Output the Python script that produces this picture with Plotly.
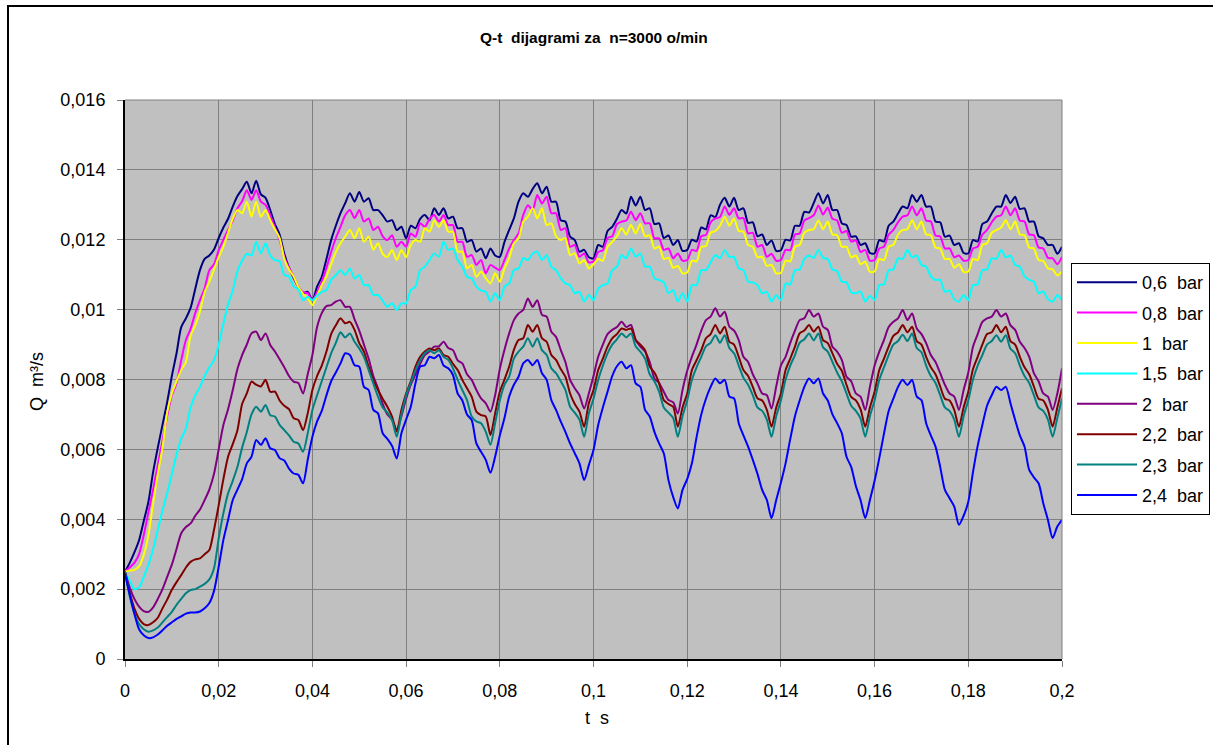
import plotly.graph_objects as go

# Sample instants, one every millisecond from 0 to 200 ms
t_ms = list(range(201))

# Flow rate Q in litres per second (converted to m3/s when plotted)
q_06_bar = [
    2.50, 2.75, 3.05, 3.40, 3.95, 4.50, 5.35, 6.05, 6.70, 7.35,
    8.10, 8.75, 9.50, 9.75, 10.05, 10.60, 11.13, 11.45, 11.55, 11.72,
    12.05, 12.35, 12.60, 12.95, 13.25, 13.45, 13.66, 13.33, 13.69, 13.30,
    13.20, 12.85, 12.45, 12.15, 11.60, 11.20, 10.90, 10.65, 10.47, 10.51,
    10.27, 10.66, 10.94, 11.45, 11.99, 12.40, 12.76, 13.05, 13.33, 13.09,
    13.37, 13.09, 13.19, 12.85, 12.85, 12.70, 12.52, 12.56, 12.28, 12.37,
    12.04, 12.40, 12.33, 12.60, 12.71, 12.56, 12.90, 12.71, 12.90, 12.61,
    12.66, 12.33, 12.33, 11.94, 11.99, 11.66, 11.75, 11.47, 11.75, 11.55,
    11.51, 11.94, 12.28, 12.61, 13.09, 13.33, 13.23, 13.45, 13.62, 13.33,
    13.52, 13.09, 13.09, 12.56, 12.52, 12.09, 11.99, 11.66, 11.71, 11.50,
    11.47, 11.85, 11.80, 12.25, 12.37, 12.60, 12.85, 12.75, 13.23, 12.98,
    13.23, 12.85, 12.90, 12.45, 12.47, 12.05, 12.12, 11.85, 11.99, 11.68,
    11.71, 12.00, 11.95, 12.35, 12.30, 12.70, 12.65, 13.00, 13.20, 12.95,
    13.20, 12.85, 12.90, 12.48, 12.50, 12.10, 12.15, 11.85, 11.98, 11.68,
    11.70, 12.00, 11.98, 12.40, 12.40, 12.80, 12.78, 13.05, 13.33, 13.04,
    13.28, 12.85, 12.85, 12.47, 12.42, 12.09, 12.10, 11.85, 11.90, 11.62,
    11.61, 11.99, 11.95, 12.40, 12.52, 12.75, 12.95, 12.90, 13.28, 13.09,
    13.28, 12.95, 12.95, 12.52, 12.50, 12.09, 12.12, 11.85, 11.90, 11.62,
    11.61, 11.99, 11.95, 12.45, 12.52, 12.75, 12.95, 12.95, 13.28, 13.05,
    13.23, 12.88, 12.90, 12.52, 12.52, 12.10, 12.04, 11.85, 11.85, 11.60,
    11.80,
]

q_08_bar = [
    2.50, 2.62, 2.75, 3.00, 3.55, 4.20, 4.85, 5.55, 6.25, 6.95,
    7.55, 7.90, 8.55, 9.13, 9.45, 9.90, 10.27, 10.61, 11.13, 11.30,
    11.70, 12.00, 12.28, 12.55, 12.90, 13.10, 13.42, 13.14, 13.42, 13.09,
    13.00, 12.70, 12.35, 12.00, 11.50, 11.20, 10.95, 10.65, 10.50, 10.47,
    10.27, 10.50, 10.80, 11.20, 11.65, 12.05, 12.37, 12.70, 12.85, 12.62,
    12.85, 12.52, 12.61, 12.28, 12.37, 12.10, 11.99, 12.13, 11.80, 11.94,
    11.80, 12.18, 12.09, 12.47, 12.37, 12.60, 12.71, 12.52, 12.71, 12.42,
    12.42, 11.94, 11.94, 11.51, 11.56, 11.28, 11.42, 11.04, 11.28, 11.20,
    11.13, 11.42, 11.75, 11.99, 12.18, 12.71, 12.99, 12.85, 13.28, 13.04,
    13.23, 12.76, 12.76, 12.28, 12.33, 11.80, 11.85, 11.51, 11.61, 11.35,
    11.38, 11.65, 11.70, 12.05, 12.10, 12.45, 12.52, 12.55, 12.80, 12.56,
    12.76, 12.47, 12.47, 12.04, 12.04, 11.71, 11.75, 11.47, 11.61, 11.40,
    11.42, 11.71, 11.68, 12.10, 12.14, 12.50, 12.61, 12.65, 12.95, 12.71,
    12.90, 12.61, 12.62, 12.18, 12.20, 11.80, 11.85, 11.51, 11.60, 11.40,
    11.42, 11.71, 11.70, 12.15, 12.18, 12.55, 12.62, 12.70, 12.98, 12.72,
    12.92, 12.60, 12.55, 12.20, 12.25, 11.95, 11.98, 11.65, 11.71, 11.40,
    11.42, 11.75, 11.80, 12.15, 12.28, 12.50, 12.66, 12.70, 12.95, 12.70,
    12.90, 12.55, 12.52, 12.12, 12.09, 11.75, 11.75, 11.50, 11.55, 11.40,
    11.42, 11.75, 11.80, 12.15, 12.28, 12.50, 12.66, 12.70, 12.95, 12.70,
    12.90, 12.55, 12.52, 12.15, 12.13, 11.78, 11.75, 11.48, 11.47, 11.30,
    11.51,
]

q_1_bar = [
    2.50, 2.53, 2.55, 2.65, 2.98, 3.55, 4.45, 5.30, 6.05, 7.05,
    7.60, 7.95, 8.27, 8.50, 9.25, 9.55, 9.95, 10.50, 10.80, 11.15,
    11.50, 11.80, 12.20, 12.60, 12.85, 12.76, 13.09, 12.66, 13.09, 12.66,
    12.85, 12.56, 12.30, 12.05, 11.45, 11.15, 10.95, 10.65, 10.45, 10.32,
    10.13, 10.40, 10.70, 10.95, 11.30, 11.65, 11.90, 12.09, 12.28, 12.04,
    12.33, 11.94, 12.09, 11.71, 11.90, 11.60, 11.51, 11.71, 11.42, 11.71,
    11.50, 11.85, 11.99, 11.94, 12.33, 12.23, 12.56, 12.37, 12.56, 12.23,
    12.23, 11.66, 11.66, 11.18, 11.28, 10.94, 11.09, 10.90, 10.75, 11.04,
    10.80, 11.18, 11.47, 11.90, 12.04, 12.52, 12.66, 12.90, 12.61, 12.90,
    12.42, 12.47, 12.10, 11.99, 12.04, 11.56, 11.61, 11.32, 11.42, 11.18,
    11.30, 11.45, 11.40, 11.80, 11.94, 12.10, 12.33, 12.15, 12.42, 12.18,
    12.45, 12.10, 12.13, 11.75, 11.80, 11.45, 11.48, 11.20, 11.25, 11.04,
    11.06, 11.40, 11.38, 11.80, 11.82, 12.20, 12.25, 12.40, 12.66, 12.40,
    12.61, 12.25, 12.23, 11.85, 11.80, 11.50, 11.51, 11.25, 11.28, 11.04,
    11.05, 11.40, 11.38, 11.80, 11.85, 12.20, 12.28, 12.30, 12.55, 12.30,
    12.52, 12.15, 12.13, 11.80, 11.80, 11.50, 11.55, 11.30, 11.37, 11.08,
    11.09, 11.45, 11.42, 11.80, 11.85, 12.15, 12.28, 12.30, 12.56, 12.30,
    12.52, 12.15, 12.13, 11.78, 11.75, 11.45, 11.45, 11.20, 11.30, 11.08,
    11.09, 11.45, 11.42, 11.85, 11.90, 12.20, 12.28, 12.35, 12.56, 12.30,
    12.52, 12.15, 12.13, 11.78, 11.75, 11.42, 11.40, 11.18, 11.15, 10.98,
    11.09,
]

q_15_bar = [
    2.50, 2.25, 2.00, 2.05, 2.35, 2.70, 3.15, 3.70, 4.25, 4.75,
    5.30, 5.85, 6.30, 6.60, 7.20, 7.55, 7.79, 8.10, 8.35, 8.55,
    9.00, 9.60, 10.15, 10.55, 11.10, 11.40, 11.60, 11.55, 11.94, 11.61,
    11.90, 11.55, 11.42, 11.38, 10.99, 10.95, 10.66, 10.58, 10.27, 10.37,
    10.27, 10.40, 10.51, 10.56, 10.85, 10.99, 11.13, 10.99, 11.18, 10.89,
    10.99, 10.70, 10.70, 10.42, 10.42, 10.25, 10.08, 10.18, 9.99, 10.18,
    10.18, 10.56, 10.66, 11.13, 11.23, 11.42, 11.61, 11.51, 11.94, 11.71,
    11.75, 11.42, 11.23, 10.94, 10.89, 10.66, 10.55, 10.51, 10.23, 10.47,
    10.27, 10.66, 10.75, 11.13, 11.18, 11.47, 11.42, 11.60, 11.66, 11.42,
    11.56, 11.23, 11.13, 10.90, 10.75, 10.70, 10.47, 10.51, 10.23, 10.42,
    10.27, 10.60, 10.70, 10.75, 11.13, 11.23, 11.56, 11.47, 11.75, 11.51,
    11.61, 11.23, 11.23, 10.90, 10.85, 10.78, 10.47, 10.56, 10.23, 10.47,
    10.23, 10.70, 10.70, 11.13, 11.13, 11.35, 11.56, 11.47, 11.71, 11.51,
    11.51, 11.18, 11.13, 10.80, 10.78, 10.70, 10.47, 10.51, 10.23, 10.42,
    10.27, 10.75, 10.72, 11.13, 11.15, 11.45, 11.55, 11.48, 11.71, 11.48,
    11.45, 11.15, 11.10, 10.80, 10.78, 10.50, 10.47, 10.52, 10.23, 10.40,
    10.27, 10.70, 10.72, 11.13, 11.15, 11.47, 11.45, 11.71, 11.50, 11.55,
    11.28, 11.23, 10.95, 10.85, 10.85, 10.51, 10.55, 10.30, 10.23, 10.42,
    10.27, 10.70, 10.72, 11.13, 11.15, 11.47, 11.45, 11.71, 11.50, 11.55,
    11.28, 11.23, 10.95, 10.85, 10.80, 10.47, 10.52, 10.30, 10.23, 10.42,
    10.27,
]

q_2_bar = [
    2.50, 2.05, 1.72, 1.50, 1.37, 1.35, 1.48, 1.72, 2.00, 2.35,
    2.70, 3.15, 3.60, 3.78, 3.88, 4.10, 4.28, 4.55, 4.85, 5.30,
    6.00, 6.70, 7.15, 7.70, 8.30, 8.70, 9.00, 9.32, 9.37, 9.13,
    9.32, 8.99, 8.80, 8.58, 8.35, 8.10, 7.94, 7.90, 7.60, 8.15,
    8.70, 9.50, 9.90, 10.10, 10.13, 10.23, 10.27, 10.08, 10.08, 9.72,
    9.40, 9.00, 8.60, 8.10, 7.75, 7.30, 7.00, 6.85, 6.55, 6.95,
    7.45, 7.85, 8.15, 8.45, 8.70, 8.80, 8.94, 8.95, 9.08, 8.90,
    8.84, 8.55, 8.46, 8.15, 7.99, 7.70, 7.46, 7.32, 7.08, 7.55,
    8.30, 8.85, 9.32, 9.70, 9.89, 9.99, 10.32, 10.08, 10.27, 9.85,
    9.80, 9.37, 9.22, 8.85, 8.50, 7.99, 7.75, 7.55, 7.17, 7.60,
    8.10, 8.65, 9.00, 9.30, 9.42, 9.50, 9.65, 9.50, 9.56, 9.13,
    8.94, 8.80, 8.50, 8.03, 7.90, 7.65, 7.41, 7.35, 7.03, 7.70,
    8.25, 8.65, 9.00, 9.40, 9.70, 9.80, 10.04, 9.80, 9.94, 9.51,
    9.40, 9.13, 8.65, 8.50, 8.15, 7.89, 7.60, 7.55, 7.17, 7.80,
    8.40, 8.65, 9.05, 9.40, 9.70, 9.75, 9.99, 9.80, 9.89, 9.51,
    9.42, 8.94, 8.80, 8.56, 8.08, 7.95, 7.60, 7.51, 7.13, 7.79,
    8.40, 8.80, 9.13, 9.50, 9.65, 9.75, 9.99, 9.70, 9.89, 9.46,
    9.30, 9.04, 8.70, 8.50, 8.18, 7.85, 7.60, 7.51, 7.13, 7.70,
    8.20, 8.94, 9.30, 9.65, 9.75, 9.80, 9.99, 9.80, 9.89, 9.55,
    9.42, 9.08, 8.90, 8.65, 8.18, 7.95, 7.60, 7.51, 7.13, 7.60,
    8.32,
]

q_22_bar = [
    2.50, 1.90, 1.45, 1.15, 1.00, 0.97, 1.05, 1.18, 1.45, 1.70,
    1.98, 2.20, 2.40, 2.62, 2.78, 2.85, 2.88, 3.00, 3.12, 3.70,
    4.40, 5.15, 5.79, 6.15, 6.55, 7.30, 7.60, 7.94, 7.85, 7.80,
    7.99, 7.65, 7.65, 7.40, 7.25, 7.15, 6.89, 6.84, 6.55, 7.03,
    7.70, 8.10, 8.40, 8.80, 9.30, 9.55, 9.75, 9.61, 9.65, 9.42,
    9.04, 8.80, 8.37, 7.99, 7.70, 7.45, 7.22, 6.94, 6.51, 7.13,
    7.60, 7.95, 8.37, 8.65, 8.80, 8.89, 8.84, 8.89, 8.70, 8.65,
    8.45, 8.27, 7.99, 7.75, 7.51, 7.08, 6.98, 6.94, 6.41, 7.03,
    7.65, 8.00, 8.37, 8.85, 9.13, 9.18, 9.56, 9.37, 9.56, 9.18,
    9.08, 8.70, 8.56, 8.30, 8.08, 7.60, 7.30, 7.08, 6.65, 7.32,
    7.70, 8.27, 8.60, 8.94, 9.18, 9.30, 9.46, 9.42, 9.46, 9.13,
    9.00, 8.84, 8.37, 8.20, 7.89, 7.41, 7.30, 7.22, 6.65, 7.20,
    7.60, 8.27, 8.55, 8.84, 9.18, 9.30, 9.56, 9.32, 9.51, 9.08,
    9.00, 8.65, 8.27, 8.10, 7.79, 7.46, 7.40, 7.13, 6.65, 7.20,
    7.60, 8.27, 8.60, 8.94, 9.32, 9.40, 9.56, 9.37, 9.51, 9.13,
    9.04, 8.75, 8.45, 8.25, 7.85, 7.50, 7.40, 7.15, 6.65, 7.20,
    7.65, 8.27, 8.60, 8.94, 9.25, 9.35, 9.56, 9.35, 9.51, 9.10,
    9.00, 8.65, 8.35, 8.15, 7.80, 7.45, 7.40, 7.13, 6.65, 7.20,
    7.65, 8.30, 8.65, 9.00, 9.30, 9.35, 9.56, 9.35, 9.51, 9.10,
    9.00, 8.65, 8.35, 8.15, 7.80, 7.45, 7.40, 7.13, 6.65, 7.20,
    7.75,
]

q_23_bar = [
    2.50, 1.80, 1.30, 1.00, 0.85, 0.78, 0.82, 0.90, 1.05, 1.20,
    1.35, 1.55, 1.72, 1.88, 1.97, 2.00, 2.07, 2.15, 2.28, 2.60,
    3.45, 4.17, 4.74, 5.10, 5.50, 6.05, 6.50, 7.00, 7.22, 7.08,
    7.27, 6.98, 6.94, 6.70, 6.55, 6.40, 6.22, 6.17, 5.93, 6.46,
    7.13, 7.55, 7.95, 8.35, 8.75, 9.05, 9.35, 9.20, 9.32, 9.08,
    8.89, 8.65, 8.27, 7.89, 7.51, 7.20, 7.05, 6.84, 6.36, 7.00,
    7.55, 7.90, 8.27, 8.55, 8.75, 8.84, 8.75, 8.84, 8.65, 8.56,
    8.32, 7.99, 7.70, 7.41, 6.94, 6.80, 6.75, 6.51, 6.13, 6.75,
    7.40, 7.85, 8.08, 8.60, 8.80, 8.94, 9.18, 8.94, 9.18, 8.84,
    8.70, 8.32, 8.18, 7.95, 7.70, 7.22, 7.05, 6.85, 6.36, 7.03,
    7.45, 7.99, 8.40, 8.75, 9.00, 9.15, 9.32, 9.20, 9.32, 8.95,
    8.80, 8.60, 8.15, 7.95, 7.65, 7.20, 7.05, 6.90, 6.36, 6.95,
    7.40, 7.99, 8.35, 8.65, 8.95, 9.05, 9.27, 9.05, 9.27, 8.90,
    8.75, 8.40, 8.05, 7.85, 7.55, 7.20, 7.10, 6.85, 6.36, 6.95,
    7.40, 8.00, 8.40, 8.70, 9.05, 9.15, 9.32, 9.12, 9.32, 8.92,
    8.80, 8.50, 8.20, 7.95, 7.60, 7.25, 7.10, 6.88, 6.36, 6.95,
    7.40, 7.99, 8.35, 8.70, 9.00, 9.10, 9.28, 9.10, 9.32, 8.90,
    8.78, 8.40, 8.10, 7.90, 7.55, 7.20, 7.10, 6.85, 6.36, 6.95,
    7.40, 8.00, 8.40, 8.70, 9.00, 9.10, 9.27, 9.08, 9.27, 8.88,
    8.75, 8.40, 8.10, 7.90, 7.55, 7.20, 7.10, 6.85, 6.36, 6.90,
    7.46,
]

q_24_bar = [
    2.45, 1.85, 1.30, 0.85, 0.68, 0.60, 0.62, 0.70, 0.82, 0.95,
    1.05, 1.15, 1.22, 1.30, 1.33, 1.33, 1.36, 1.45, 1.60, 1.95,
    2.64, 3.41, 3.98, 4.55, 4.85, 5.15, 5.60, 5.79, 6.27, 6.13,
    6.32, 6.03, 5.98, 5.75, 5.68, 5.45, 5.31, 5.27, 5.03, 5.70,
    6.36, 6.80, 7.10, 7.55, 7.95, 8.20, 8.46, 8.75, 8.70, 8.41,
    8.37, 7.79, 7.70, 7.13, 7.03, 6.46, 6.30, 6.10, 5.74, 6.46,
    6.85, 7.22, 7.89, 8.37, 8.41, 8.65, 8.61, 8.70, 8.40, 8.32,
    8.13, 7.60, 7.40, 7.00, 6.84, 6.17, 5.93, 5.70, 5.33, 5.79,
    6.40, 6.90, 7.51, 7.85, 8.08, 8.46, 8.56, 8.41, 8.56, 8.18,
    7.99, 7.41, 7.13, 6.80, 6.50, 6.17, 5.89, 5.60, 5.12, 5.55,
    5.98, 6.70, 7.20, 7.65, 8.10, 8.38, 8.51, 8.32, 8.41, 7.89,
    7.79, 7.13, 6.94, 6.50, 6.17, 5.89, 5.12, 4.64, 4.31, 4.84,
    5.15, 5.60, 6.35, 7.00, 7.45, 7.79, 8.03, 7.89, 7.99, 7.51,
    7.46, 6.75, 6.40, 6.08, 5.70, 5.30, 4.84, 4.55, 4.03, 4.55,
    5.05, 5.60, 6.30, 6.95, 7.40, 7.79, 8.03, 7.89, 8.03, 7.60,
    7.40, 7.00, 6.75, 6.46, 5.79, 5.50, 4.95, 4.55, 4.03, 4.55,
    5.10, 5.75, 6.45, 7.10, 7.45, 7.79, 7.99, 7.84, 7.99, 7.51,
    7.41, 6.75, 6.40, 6.08, 5.50, 4.84, 4.60, 4.36, 3.84, 4.10,
    4.50, 5.35, 6.10, 6.70, 7.25, 7.55, 7.79, 7.70, 7.79, 7.32,
    6.84, 6.40, 6.08, 5.41, 5.20, 5.03, 4.46, 3.98, 3.46, 3.79,
    3.98,
]

series_names = ["0,6  bar", "0,8  bar", "1  bar", "1,5  bar",
                "2  bar", "2,2  bar", "2,3  bar", "2,4  bar"]
series_values = [q_06_bar, q_08_bar, q_1_bar, q_15_bar,
                 q_2_bar, q_22_bar, q_23_bar, q_24_bar]
series_colors = ["#000080", "#FF00FF", "#FFFF00", "#00FFFF",
                 "#800080", "#800000", "#008080", "#0000FF"]

x_tick_values = [0, 0.02, 0.04, 0.06, 0.08, 0.1, 0.12, 0.14, 0.16, 0.18, 0.2]
x_tick_labels = ["0", "0,02", "0,04", "0,06", "0,08", "0,1", "0,12",
                 "0,14", "0,16", "0,18", "0,2"]
y_tick_values = [0, 0.002, 0.004, 0.006, 0.008, 0.01, 0.012, 0.014, 0.016]
y_tick_labels = ["0", "0,002", "0,004", "0,006", "0,008", "0,01",
                 "0,012", "0,014", "0,016"]

FONT = "Liberation Sans, Arial, sans-serif"
t_s = [ms / 1000 for ms in t_ms]

fig = go.Figure()
for name, q_lps, color in zip(series_names, series_values, series_colors):
    fig.add_trace(go.Scatter(
        x=t_s[:len(q_lps)],
        y=[v / 1000 for v in q_lps],
        mode="lines",
        name=name.replace("  ", "\u00a0 "),
        legendgroup=name,
        line=dict(color=color, width=2, shape="spline", smoothing=0.7),
        hoverinfo="skip",
    ))

W, H = 1213, 745
L, R, T, B = 125, 151, 100, 86
pw, ph = W - L - R, H - T - B


def px_x(p):
    return (p - L) / pw


def px_y(p):
    return (H - B - p) / ph


fig.update_layout(
    width=W, height=H,
    margin=dict(l=L, r=R, t=T, b=B, autoexpand=False),
    paper_bgcolor="white",
    plot_bgcolor="#C0C0C0",
    font=dict(family=FONT, size=18, color="black"),
    showlegend=True,
    legend=dict(
        x=px_x(1071), y=px_y(263), xanchor="left", yanchor="top",
        bgcolor="white", bordercolor="black", borderwidth=1,
        font=dict(family=FONT, size=18, color="black"),
        traceorder="grouped", tracegroupgap=4, itemwidth=60,
    ),
    shapes=[
        # outer chart frame
        dict(type="rect", xref="paper", yref="paper",
             x0=px_x(8), x1=px_x(1230), y0=px_y(760), y1=px_y(6),
             line=dict(color="black", width=2), fillcolor="rgba(0,0,0,0)",
             layer="below"),
        # plot-area border on the top and right sides
        dict(type="line", xref="paper", yref="paper", x0=0, x1=1, y0=1, y1=1,
             line=dict(color="#808080", width=1)),
        dict(type="line", xref="paper", yref="paper", x0=1, x1=1, y0=0, y1=1,
             line=dict(color="#808080", width=1)),
    ],
    annotations=[
        dict(text="<b>Q-t\u00a0 dijagrami za\u00a0 n=3000 o/min</b>",
             xref="paper", yref="paper", x=0.5, y=px_y(37),
             xanchor="center", yanchor="middle", showarrow=False,
             font=dict(family=FONT, size=15.5, color="black")),
        dict(text="t\u00a0 s", xref="paper", yref="paper",
             x=px_x(597), y=px_y(718), xanchor="center", yanchor="middle",
             showarrow=False, font=dict(family=FONT, size=18, color="black")),
        dict(text="Q\u00a0 m³/s", xref="paper", yref="paper",
             x=px_x(37), y=px_y(382), xanchor="center", yanchor="middle",
             textangle=-90, showarrow=False,
             font=dict(family=FONT, size=18, color="black")),
    ],
)

fig.update_xaxes(
    range=[0, 0.2], tickmode="array", tickvals=x_tick_values,
    ticktext=x_tick_labels, showgrid=True, gridcolor="#808080", gridwidth=1,
    showline=True, linecolor="black", linewidth=2, ticks="outside",
    ticklen=6, tickcolor="#808080", zeroline=False, ticklabelstandoff=8,
    tickfont=dict(family=FONT, size=18, color="black"),
)
fig.update_yaxes(
    range=[0, 0.016], tickmode="array", tickvals=y_tick_values,
    ticktext=y_tick_labels, showgrid=True, gridcolor="#808080", gridwidth=1,
    showline=True, linecolor="black", linewidth=2, ticks="outside",
    ticklen=6, tickcolor="#808080", zeroline=False, ticklabelstandoff=8,
    tickfont=dict(family=FONT, size=18, color="black"),
)

fig.write_html("out.html", post_script="document.body.style.margin='0';")
